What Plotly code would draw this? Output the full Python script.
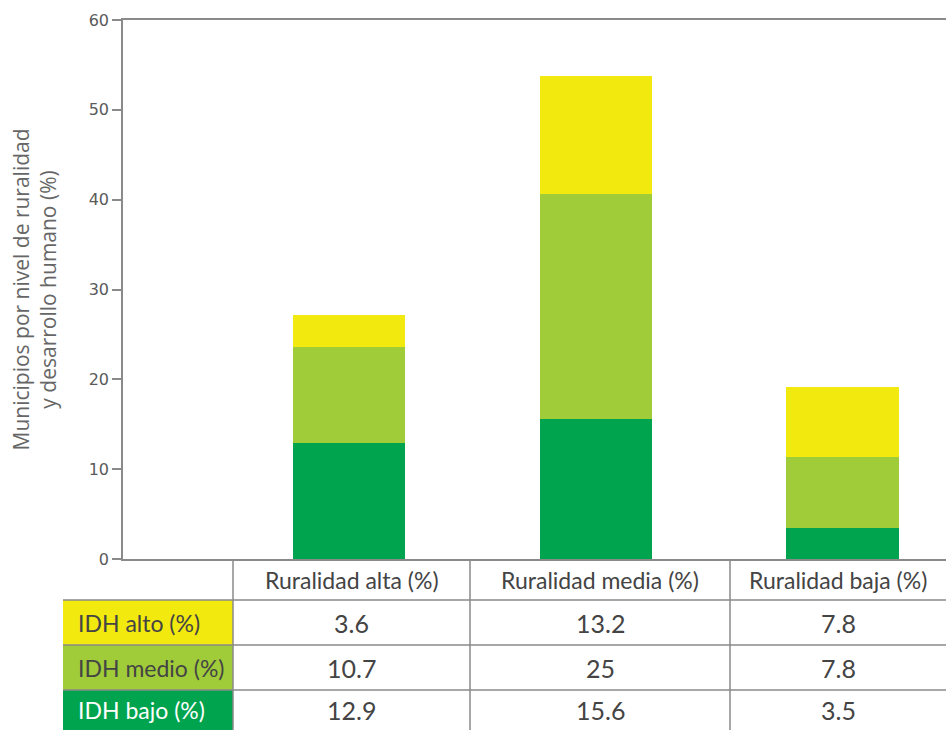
import plotly.graph_objects as go

# ---- data ----
categories = ["Ruralidad alta (%)", "Ruralidad media (%)", "Ruralidad baja (%)"]
series_names = ["IDH bajo (%)", "IDH medio (%)", "IDH alto (%)"]
idh_bajo = [12.9, 15.6, 3.5]
idh_medio = [10.7, 25, 7.8]
idh_alto = [3.6, 13.2, 7.8]
y_ticks = [0, 10, 20, 30, 40, 50, 60]
y_title = "Municipios por nivel de ruralidad<br>y desarrollo humano (%)"

# ---- style ----
colors = {"IDH bajo (%)": "#00A44E", "IDH medio (%)": "#A0CC3A", "IDH alto (%)": "#F2E90F"}
label_text_colors = {"IDH bajo (%)": "#FFFFFF", "IDH medio (%)": "#444444", "IDH alto (%)": "#444444"}
W, H = 946, 730
L, R, T, B = 123, 0, 20, 171
PW, PH = W - L - R, H - T - B
GRID = "#8a8a8a"
TXT = "#444444"
TABLE_FONT = "Lato"


def px(x):
    return (x - L) / PW


def py(y):
    return (H - B - y) / PH


fig = go.Figure()
for name, vals in [("IDH bajo (%)", idh_bajo), ("IDH medio (%)", idh_medio), ("IDH alto (%)", idh_alto)]:
    fig.add_trace(go.Bar(x=categories, y=vals, name=name, marker_color=colors[name],
                         marker_line_width=0, width=0.455))

# ---- table under the plot ----
col_edges = [63, 233, 470, 730, 946]
row_edges = [559, 600, 645, 690, 730]
shapes = []
annotations = []
table_rows = [("IDH alto (%)", idh_alto), ("IDH medio (%)", idh_medio), ("IDH bajo (%)", idh_bajo)]

for i, (name, vals) in enumerate(table_rows):
    y0, y1 = row_edges[i + 1], row_edges[i + 2]
    shapes.append(dict(type="rect", xref="paper", yref="paper",
                       x0=px(col_edges[0]), x1=px(col_edges[1]), y0=py(y1), y1=py(y0),
                       fillcolor=colors[name], line_width=0, layer="below"))
    annotations.append(dict(xref="paper", yref="paper", x=px(col_edges[0] + 13), y=py((y0 + y1) / 2),
                            text=name, showarrow=False, xanchor="left", yanchor="middle",
                            font=dict(family=TABLE_FONT, size=23, color=label_text_colors[name])))
    for j, v in enumerate(vals):
        cx = (col_edges[j + 1] + col_edges[j + 2]) / 2
        annotations.append(dict(xref="paper", yref="paper", x=px(cx), y=py((y0 + y1) / 2),
                                text=f"{v:g}", showarrow=False, xanchor="center", yanchor="middle",
                                font=dict(family=TABLE_FONT, size=25, color=TXT)))

for j, c in enumerate(categories):
    cx = (col_edges[j + 1] + col_edges[j + 2]) / 2
    annotations.append(dict(xref="paper", yref="paper", x=px(cx), y=py((row_edges[0] + row_edges[1]) / 2),
                            text=c, showarrow=False, xanchor="center", yanchor="middle",
                            font=dict(family=TABLE_FONT, size=23, color=TXT)))

# y-axis title as rotated annotation
annotations.append(dict(xref="paper", yref="paper", x=px(34), y=0.5, text=y_title, showarrow=False,
                        textangle=-90, xanchor="center", yanchor="middle",
                        font=dict(family="Open Sans", size=21, color="#666666")))

# horizontal lines
for yy in row_edges[1:4]:
    shapes.append(dict(type="line", xref="paper", yref="paper", x0=px(col_edges[0]), x1=px(W),
                       y0=py(yy), y1=py(yy), line=dict(color=GRID, width=1.5)))
# vertical lines
for xx in col_edges[1:4]:
    shapes.append(dict(type="line", xref="paper", yref="paper", x0=px(xx), x1=px(xx),
                       y0=py(row_edges[0]), y1=py(H), line=dict(color=GRID, width=1.5)))

fig.update_layout(
    width=W, height=H,
    margin=dict(l=L, r=R, t=T, b=B, pad=0, autoexpand=False),
    barmode="stack",
    showlegend=False,
    plot_bgcolor="white", paper_bgcolor="white",
    bargap=0,
    shapes=shapes,
    annotations=annotations,
    xaxis=dict(type="category", categoryorder="array", categoryarray=categories,
               range=[-0.917, 2.42], showticklabels=False, ticks="",
               showline=True, linecolor=GRID, linewidth=1.5, mirror=True,
               showgrid=False, zeroline=False, fixedrange=True, automargin=False),
    yaxis=dict(range=[0, 60], tickvals=y_ticks, ticks="outside", ticklen=9,
               tickcolor=GRID, tickwidth=1.5, showline=True, linecolor=GRID, linewidth=1.5,
               showgrid=False, zeroline=False, automargin=False,
               tickfont=dict(family="DejaVu Sans", size=16, color="#5a5a5a")),
)

fig.write_html("out.html")
